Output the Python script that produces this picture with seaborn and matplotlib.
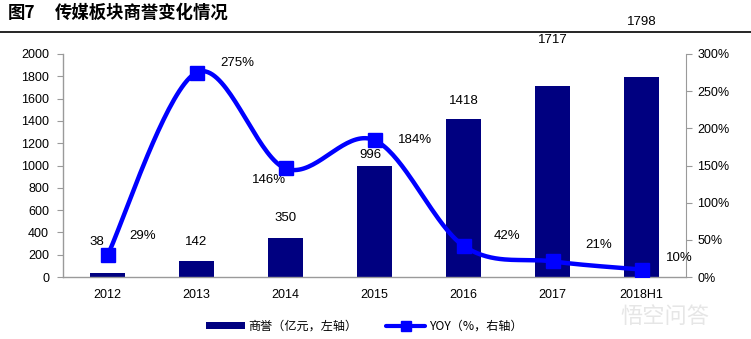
import numpy as np
import pandas as pd
import matplotlib
matplotlib.use("Agg")
import matplotlib.pyplot as plt
import seaborn as sns
from matplotlib.patches import Patch
from matplotlib.lines import Line2D

# ---- data ----
categories = ["2012", "2013", "2014", "2015", "2016", "2017", "2018H1"]
goodwill = [38, 142, 350, 996, 1418, 1717, 1798]          # 亿元, left axis
yoy = [29, 275, 146, 184, 42, 21, 10]                       # %, right axis
left_ticks = [0, 200, 400, 600, 800, 1000, 1200, 1400, 1600, 1800, 2000]
right_ticks = [0, 50, 100, 150, 200, 250, 300]

# label placement (styling only)
bar_label_pos = [(-0.12, 314), (0, 314), (0, 529), (-0.05, 1094), (0, 1578), (0, 2126), (0, 2287)]
yoy_label_pos = [(0.40, 55), (1.46, 288), (1.81, 130), (3.46, 184), (4.49, 55), (5.52, 43), (6.42, 25)]

sns.set_style("white")
plt.rcParams["font.family"] = ["Liberation Sans", "Noto Sans CJK SC", "DejaVu Sans"]
plt.rcParams["text.color"] = "black"
plt.rcParams["xtick.color"] = "black"
plt.rcParams["ytick.color"] = "black"
cjk = ["Noto Sans CJK SC", "DejaVu Sans"]

NAVY = "#000080"
BLUE = "#0000FF"
GRAY = "#9a9a9a"

fig = plt.figure(figsize=(7.51, 3.39), dpi=100)
ax = fig.add_axes([63 / 751, 1 - 277 / 339, 623 / 751, 223 / 339])

df = pd.DataFrame({"cat": categories, "goodwill": goodwill, "yoy": yoy})
sns.barplot(data=df, x="cat", y="goodwill", color=NAVY, width=0.4, ax=ax,
            saturation=1, edgecolor="none")
ax.set_xlim(-0.5, len(categories) - 0.5)
ax.set_ylim(0, 2000)
ax.set_yticks(left_ticks)
ax.set_xlabel("")
ax.set_ylabel("")
ax.set_xticks(range(len(categories)))
ax.set_xticklabels(categories)
ax.set_xticks(np.arange(-0.5, len(categories), 1), minor=True)
ax.tick_params(axis="x", which="major", length=0, pad=9, labelsize=9, labelcolor="black")
ax.tick_params(axis="x", which="minor", length=4, color=GRAY, direction="out")
ax.tick_params(axis="y", length=4, color=GRAY, direction="out", labelsize=9, pad=6,
               labelcolor="black")
for s in ["top", "right"]:
    ax.spines[s].set_visible(False)
for s in ["left", "bottom"]:
    ax.spines[s].set_color(GRAY)
    ax.spines[s].set_linewidth(1)

ax2 = ax.twinx()
ax2.set_ylim(0, 300)
ax2.set_yticks(right_ticks)
ax2.set_yticklabels([f"{t}%" for t in right_ticks])
ax2.tick_params(axis="y", length=4, color=GRAY, direction="out", labelsize=9, pad=4,
                labelcolor="black")
for s in ["top", "left", "bottom"]:
    ax2.spines[s].set_visible(False)
ax2.spines["right"].set_color(GRAY)


# smooth curve (Catmull-Rom, like Excel's smoothed line)
def catmull_rom(xs, ys, n=40):
    xs = np.asarray(xs, float)
    ys = np.asarray(ys, float)
    px = np.concatenate([[xs[0]], xs, [xs[-1]]])
    py = np.concatenate([[ys[0]], ys, [ys[-1]]])
    outx, outy = [], []
    t = np.linspace(0, 1, n)
    for i in range(1, len(px) - 2):
        p0x, p1x, p2x, p3x = px[i - 1], px[i], px[i + 1], px[i + 2]
        p0y, p1y, p2y, p3y = py[i - 1], py[i], py[i + 1], py[i + 2]
        c1x, c1y = p1x + (p2x - p0x) / 6, p1y + (p2y - p0y) / 6
        c2x, c2y = p2x - (p3x - p1x) / 6, p2y - (p3y - p1y) / 6
        bx = (1 - t) ** 3 * p1x + 3 * (1 - t) ** 2 * t * c1x + 3 * (1 - t) * t ** 2 * c2x + t ** 3 * p2x
        by = (1 - t) ** 3 * p1y + 3 * (1 - t) ** 2 * t * c1y + 3 * (1 - t) * t ** 2 * c2y + t ** 3 * p2y
        outx.append(bx)
        outy.append(by)
    return np.concatenate(outx), np.concatenate(outy)


xi = np.arange(len(categories))
sx, sy = catmull_rom(xi, yoy)
ax2.plot(sx, sy, color=BLUE, lw=3.2, solid_capstyle="round", zorder=3)
ax2.plot(xi, yoy, linestyle="none", marker="s", markersize=10, color=BLUE, zorder=4)

for i, v in enumerate(goodwill):
    dx, y = bar_label_pos[i]
    ax.text(i + dx, y, f"{v}", ha="center", va="center", fontsize=9.5, clip_on=False)
for i, v in enumerate(yoy):
    x, y = yoy_label_pos[i]
    ax2.text(x, y, f"{v}%", ha="center", va="center", fontsize=9.5, clip_on=False)

# title and rule
fig.text(8 / 751, 1 - 13 / 339, "图7", family=cjk, fontsize=12.5,
         fontweight="bold", ha="left", va="center")
fig.text(55 / 751, 1 - 13 / 339, "传媒板块商誉变化情况", family=cjk, fontsize=12.5,
         fontweight="bold", ha="left", va="center")
fig.add_artist(Line2D([0, 1], [1 - 32 / 339, 1 - 32 / 339], color="black", lw=1.2,
                      transform=fig.transFigure))

# legend
handles = [Patch(facecolor=NAVY, edgecolor="none"),
           Line2D([0], [0], color=BLUE, lw=3, marker="s", markersize=7)]
labels = ["商誉（亿元，左轴）", "YOY（%，右轴）"]
leg = fig.legend(handles, labels, loc="center", bbox_to_anchor=(364 / 751, 1 - 326 / 339),
                 ncol=2, frameon=False, handlelength=3.2, handleheight=0.5,
                 columnspacing=2.4, handletextpad=0.3, prop={"family": cjk, "size": 8.7})

# watermark
fig.text(665 / 751, 1 - 316 / 339, "悟空问答", family=cjk, fontsize=16, color="#e6e6e6",
         ha="center", va="center")

fig.savefig("out.png", dpi=100)
